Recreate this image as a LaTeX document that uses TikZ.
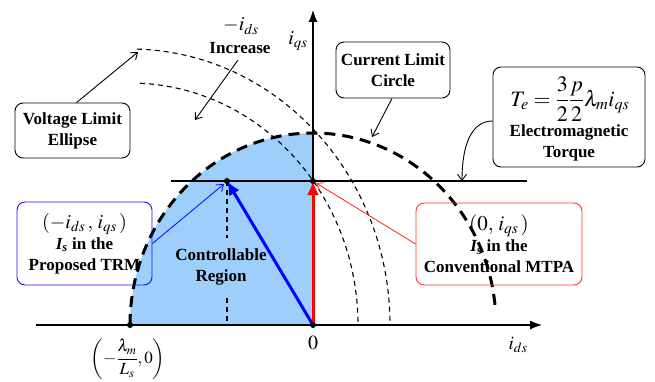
\documentclass[tikz,border=0pt]{standalone}
\usepackage{amsmath}
\usepackage{mathptmx}
\usepackage{fontspec}
\setmainfont{Liberation Serif}
\usetikzlibrary{arrows.meta}
\definecolor{fillblue}{RGB}{158,206,250}
\definecolor{boxred}{RGB}{255,50,50}
\definecolor{boxblue}{RGB}{20,20,255}
\begin{document}
\begin{tikzpicture}[x=1pt,y=-1pt,
  bigfont/.style={font=\fontsize{17}{21}\selectfont\bfseries},
  lbl/.style={bigfont, align=center, inner sep=0pt},
  mlbl/.style={font=\fontsize{20}{22}\selectfont, inner sep=0pt},
  callbox/.style={draw, rounded corners=8pt, line width=0.9pt, inner sep=0pt, align=center, bigfont},
  ax/.style={line width=1.2pt, -{Latex[length=12pt,width=9pt]}},
  thindash/.style={line width=1.1pt, dash pattern=on 5pt off 4pt},
  thickdash/.style={line width=3pt, dash pattern=on 11pt off 7pt},
  callarrow/.style={line width=0.9pt, -{Straight Barb[length=6pt,width=9pt]}},
  bigarrow/.style={line width=3pt, -{Latex[length=14pt,width=12pt]}},
  dot/.style={circle, fill=black, inner sep=0pt, minimum size=6pt}
]
\useasboundingbox (0,0) rectangle (655,382);

% key points
\coordinate (O) at (313,325);
\coordinate (L) at (130,325);
\coordinate (Q) at (313,181);
\coordinate (P) at (227,181);
\coordinate (xs) at (36,325);
\coordinate (xe) at (542,325);
\coordinate (ye) at (313,10);
\coordinate (ts) at (171,181);
\coordinate (te) at (527,181);

% controllable region fill
\fill[fillblue] (O) -- (L) arc[start angle=180, end angle=90, x radius=183pt, y radius=192pt] -- cycle;

% voltage limit ellipses
\draw[thindash] (L) ++(88.5:260pt and 276pt) arc[start angle=88.5, end angle=0, x radius=260pt, y radius=276pt];
\draw[thindash] (L) ++(87.5:228pt and 242pt) arc[start angle=87.5, end angle=0, x radius=228pt, y radius=242pt];

% vertical dashed line
\coordinate (vd1) at (227,238);
\coordinate (vd2) at (227,298);
\coordinate (vd3) at (227,325);
\draw[thindash] (P) -- (vd1);
\draw[thindash] (vd2) -- (vd3);

% current limit circle
\draw[thickdash] (L) arc[start angle=180, end angle=4, x radius=183pt, y radius=192pt];

% axes and torque line
\draw[ax] (xs) -- (xe);
\draw[ax] (O) -- (ye);
\draw[line width=1.2pt] (ts) -- (te);

% current vectors
\draw[bigarrow, red] (O) -- (Q);
\draw[bigarrow, blue] (O) -- (P);

% dots
\node[dot] (dL) at (L) {};
\node[dot] (dO) at (O) {};
\node[dot] (dQ) at (Q) {};
\node[dot] (dP) at (P) {};

% labels
\node[lbl] (ctrl) at (221,267) {Controllable\\Region};
\node[mlbl] (iqs) at (298,41) {$i_{qs}$};
\node[mlbl, font=\fontsize{19}{22}\selectfont] (ids) at (518,345) {$i_{ds}$};
\node[mlbl] (zero) at (313,343) {$0$};
\node[mlbl, font=\fontsize{17}{20}\selectfont] (lam) at (128,359) {$\left(-\dfrac{\lambda_m}{L_s},0\right)$};
\node[mlbl] (mids) at (241,26) {$-i_{ds}$};
\node[lbl] (incr) at (240,48) {Increase};
\coordinate (incA) at (238,60);
\coordinate (incB) at (195,120);
\draw[callarrow] (incA) -- (incB);

% callout boxes
\node[callbox, minimum width=115pt, minimum height=55pt] (vbox) at (72.5,130.5) {Voltage Limit\\Ellipse};
\coordinate (vtip) at (138,52);
\draw[callarrow] ([xshift=4pt]vbox.north) -- (vtip);

\node[callbox, minimum width=114pt, minimum height=56pt] (cbox) at (393,70) {Current Limit\\Circle};
\coordinate (ctip) at (372,137);
\draw[callarrow] ([xshift=-1pt]cbox.south) -- (ctip);

\node[callbox, minimum width=152pt, minimum height=100pt] (tbox) at (569,117) {};
\node[mlbl, font=\fontsize{22}{24}\selectfont] (tform) at (570,99) {$T_e=\dfrac{3}{2}\dfrac{p}{2}\lambda_m i_{qs}$};
\node[lbl] (ttxt) at (569,143) {Electromagnetic\\Torque};
\coordinate (ttip) at (462,181);
\draw[callarrow] ([yshift=-4pt]tbox.west) .. controls (470,121) and (462,148) .. (ttip);

\node[callbox, draw=boxblue, minimum width=135pt, minimum height=83pt] (bbox) at (84.5,243.5)
  {{\fontsize{20}{22}\selectfont$(-i_{ds}\,,\, i_{qs}\,)$}\\{\itshape I\textsubscript{s}} in the\\Proposed TRM};
\draw[callarrow, boxblue] (bbox.east) -- ([xshift=-3pt,yshift=-3pt]P);

\node[callbox, draw=boxred, minimum width=166pt, minimum height=82pt] (rbox) at (499,244)
  {{\fontsize{21}{24}\selectfont$(0,\, i_{qs}\,)$}\\{\itshape I\textsubscript{s}} in the\\Conventional MTPA};
\draw[callarrow, boxred] (rbox.west) -- ([xshift=3pt,yshift=-2pt]Q);
\end{tikzpicture}
\end{document}
